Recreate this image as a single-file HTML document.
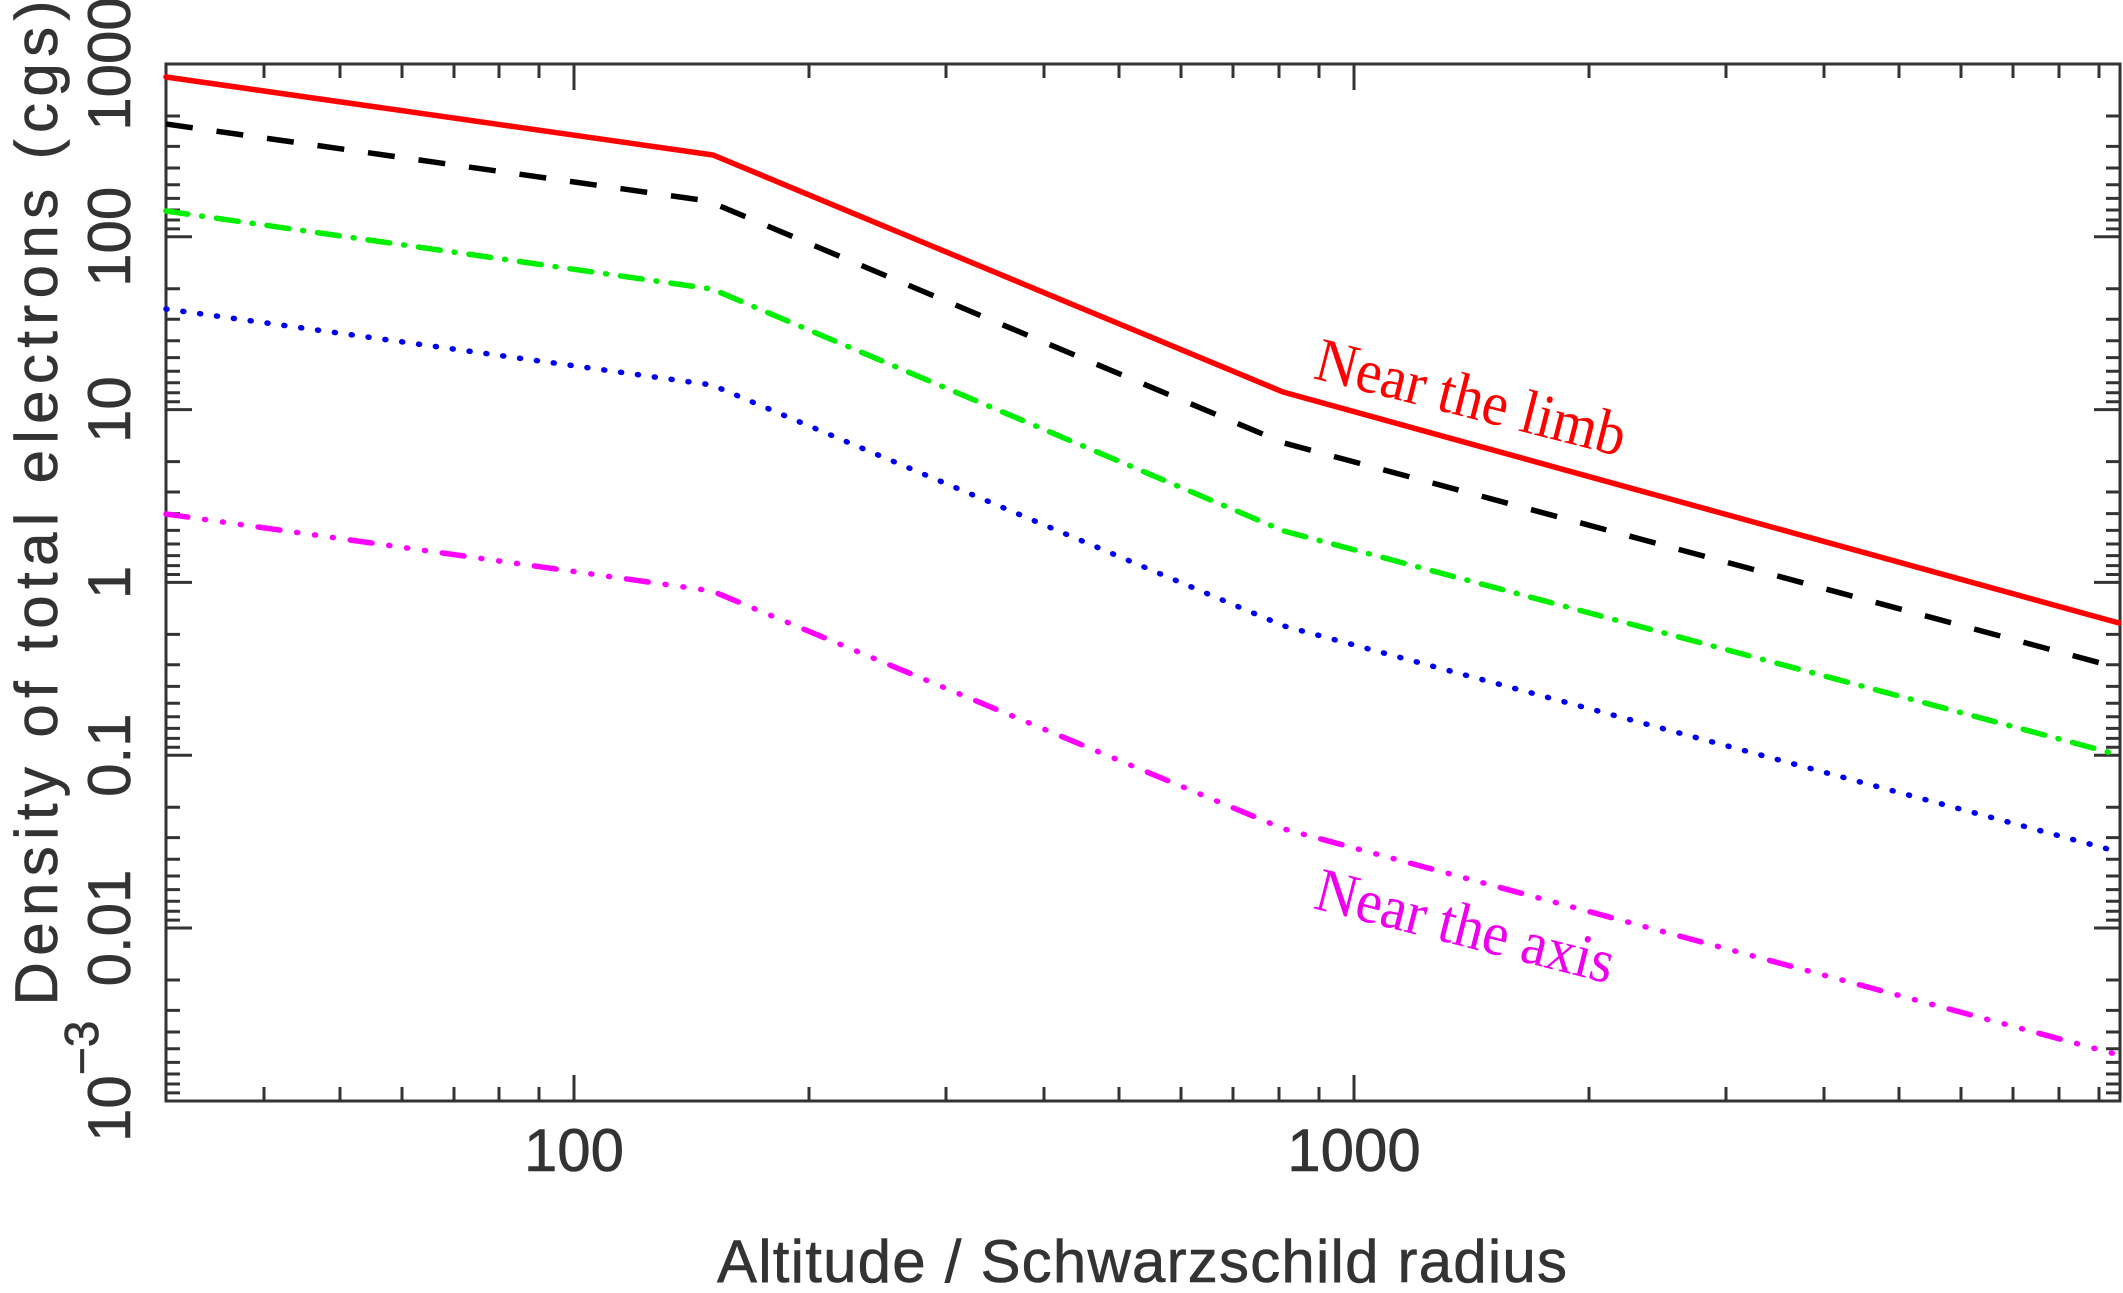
<!DOCTYPE html>
<html><head><meta charset="utf-8"><style>
html,body{margin:0;padding:0;background:#fff;}
svg{display:block;}
text{font-family:"Liberation Sans",sans-serif;fill:#333;}
</style></head><body>
<svg width="2123" height="1293" viewBox="0 0 2123 1293" xmlns="http://www.w3.org/2000/svg">
<g stroke="#333" stroke-width="3" fill="none">
<rect x="166" y="64" width="1954" height="1037"/>
<path d="
M574 1101v-26 M574 64v26
M1354 1101v-26 M1354 64v26
M264 1101v-14 M264 64v14
M340 1101v-14 M340 64v14
M402 1101v-14 M402 64v14
M454 1101v-14 M454 64v14
M499 1101v-14 M499 64v14
M539 1101v-14 M539 64v14
M809 1101v-14 M809 64v14
M946 1101v-14 M946 64v14
M1044 1101v-14 M1044 64v14
M1119 1101v-14 M1119 64v14
M1181 1101v-14 M1181 64v14
M1233 1101v-14 M1233 64v14
M1279 1101v-14 M1279 64v14
M1319 1101v-14 M1319 64v14
M1589 1101v-14 M1589 64v14
M1726 1101v-14 M1726 64v14
M1824 1101v-14 M1824 64v14
M1899 1101v-14 M1899 64v14
M1961 1101v-14 M1961 64v14
M2013 1101v-14 M2013 64v14
M2059 1101v-14 M2059 64v14
M2099 1101v-14 M2099 64v14
"/>
<path id="yt" d="
M166 64h26 M166 236.8h26 M166 409.6h26 M166 582.4h26 M166 755.2h26 M166 928h26
M166 116h14 M166 146.4h14 M166 168h14 M166 184.8h14 M166 198.4h14 M166 210h14 M166 220h14 M166 228.9h14
M166 288.8h14 M166 319.2h14 M166 340.8h14 M166 357.6h14 M166 371.2h14 M166 382.8h14 M166 392.8h14 M166 401.7h14
M166 461.6h14 M166 492h14 M166 513.6h14 M166 530.4h14 M166 544h14 M166 555.6h14 M166 565.6h14 M166 574.5h14
M166 634.4h14 M166 664.8h14 M166 686.4h14 M166 703.2h14 M166 716.8h14 M166 728.4h14 M166 738.4h14 M166 747.3h14
M166 807.2h14 M166 837.6h14 M166 859.2h14 M166 876h14 M166 889.6h14 M166 901.2h14 M166 911.2h14 M166 920.1h14
M166 980h14 M166 1010.4h14 M166 1032h14 M166 1048.8h14 M166 1062.4h14 M166 1074h14 M166 1084h14 M166 1092.9h14
"/>
<use href="#yt" transform="translate(2286,0) scale(-1,1)"/>
</g>
<g fill="none" stroke-width="5.5" stroke-linecap="round" stroke-linejoin="round">
<path d="M166 77 L713 155 L1283 392 L2119 623" stroke="#ff0000"/>
<path d="M166 124 L708 201 L1284 443 L2119 668" stroke="#000" stroke-dasharray="27 24" stroke-linecap="butt"/>
<path d="M166 211 L712 289 L1284 531 L2119 755" stroke="#00ee00" stroke-dasharray="22 14 1 14" />
<path d="M166 309 L712 385 L1284 626 L2119 852" stroke="#0000ee" stroke-dasharray="1 16"/>
<path d="M166 514 L712 591 L1284 829 L2119 1055" stroke="#ff00ff" stroke-dasharray="22 17 1 17 1 17 1 17"/>
</g>
<g font-size="60" stroke="#333" stroke-width="0.6">
<text x="574" y="1171" text-anchor="middle">100</text>
<text x="1354" y="1171" text-anchor="middle">1000</text>
<text x="1142" y="1282" text-anchor="middle" textLength="850" lengthAdjust="spacing">Altitude / Schwarzschild radius</text>
<g transform="translate(130,0)">
<text transform="translate(0,64) rotate(-90)" text-anchor="middle">1000</text>
<text transform="translate(0,236.8) rotate(-90)" text-anchor="middle">100</text>
<text transform="translate(0,409.6) rotate(-90)" text-anchor="middle">10</text>
<text transform="translate(0,582.4) rotate(-90)" text-anchor="middle">1</text>
<text transform="translate(0,755.2) rotate(-90)" text-anchor="middle">0.1</text>
<text transform="translate(0,928) rotate(-90)" text-anchor="middle">0.01</text>
<text transform="translate(0,1142) rotate(-90)">10<tspan dy="-32" font-size="48">−3</tspan></text>
</g>
<text transform="translate(57,503) rotate(-90)" text-anchor="middle" textLength="1005" lengthAdjust="spacing">Density of total electrons (cgs)</text>
</g>
<text transform="translate(1312,378) rotate(14.3)" style="font-family:'Liberation Serif',serif;fill:#ff0000" font-size="62" textLength="318" lengthAdjust="spacingAndGlyphs">Near the limb</text>
<text transform="translate(1312,908) rotate(14.3)" style="font-family:'Liberation Serif',serif;fill:#ee00ee" font-size="62" textLength="306" lengthAdjust="spacingAndGlyphs">Near the axis</text>
</svg>
</body></html>
